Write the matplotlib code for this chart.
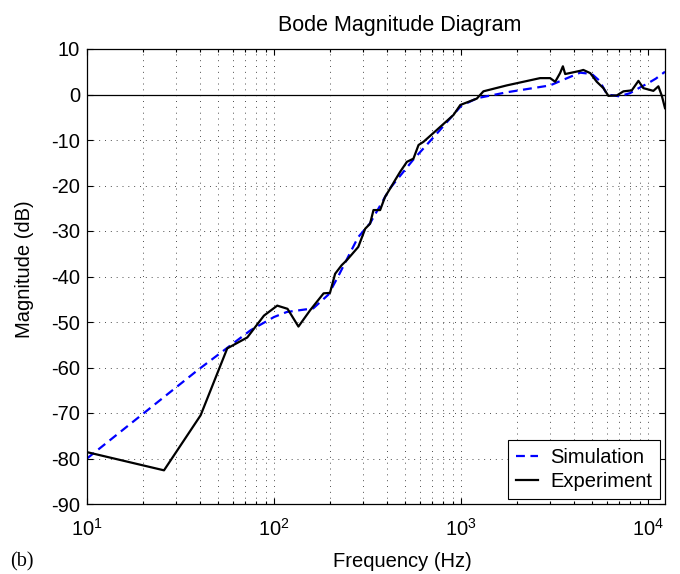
import matplotlib
matplotlib.use("Agg")
import matplotlib.pyplot as plt
from matplotlib.ticker import LogLocator, NullFormatter, MultipleLocator

# simulated response (frequency in Hz, magnitude in dB)
sim_freq = [10, 39, 75, 100, 117, 162, 195, 220, 281, 326, 417, 553, 745,
            1000, 1220, 1762, 2990, 3500, 4330, 5000, 5500, 6030, 7000,
            8000, 9000, 10000, 11000, 12300]
sim_mag = [-80, -60.6, -51.8, -48.9, -47.8, -47, -44, -40, -31.4, -28.3,
           -20.6, -14.4, -8.5, -2.5, -0.8, 0.5, 2, 3.2, 4.8, 4.5, 3, 0,
           -0.4, 0.3, 1.5, 2.5, 3.5, 5]

# measured response
exp_freq = [10, 25.8, 40.5, 56.2, 71.9, 88.3, 104, 118, 135, 156, 184, 199,
            212, 230, 245, 282, 307, 326, 340, 369, 392, 417, 444, 472, 513,
            556, 592, 629, 741, 910, 990, 1213, 1316, 1754, 2153, 2643, 2990,
            3184, 3380, 3500, 3600, 4330, 4500, 4900, 5310, 5760, 6130, 6800,
            7380, 8170, 8870, 9420, 10660, 11340, 11830, 12300]
exp_mag = [-78.6, -82.6, -70.5, -55.8, -53.4, -48.6, -46.4, -47.1, -51,
           -47.4, -43.7, -43.6, -39.4, -37.5, -36.4, -33.5, -29.5, -28.4,
           -25.4, -25.4, -22.5, -20.7, -18.8, -17, -14.8, -14.1, -11.1, -10.4,
           -7.8, -4.5, -2.3, -0.9, 0.7, 2, 2.8, 3.6, 3.6, 2.8, 4.7, 6.2, 4.5,
           5.2, 5.4, 4.7, 2.8, 1.4, -0.3, -0.2, 0.7, 0.9, 3.0, 1.4, 0.8, 1.8,
           -0.3, -3]

plt.rcParams['font.family'] = ['Liberation Sans', 'DejaVu Sans']
plt.rcParams['mathtext.fontset'] = 'custom'
plt.rcParams['mathtext.rm'] = 'Liberation Sans'
plt.rcParams['axes.unicode_minus'] = False

fs = 14.5

fig = plt.figure(figsize=(6.8, 5.74), dpi=100)
ax = fig.add_axes([87 / 680, 1 - 504 / 574, (665 - 87) / 680, (504 - 49) / 574])

grid_kw = dict(color='0.3', linestyle=(0, (1, 5)), linewidth=0.7)
ax.set_xscale('log')
ax.set_xlim(10, 12300)
ax.set_ylim(-90, 10)
ax.yaxis.set_major_locator(MultipleLocator(10))
ax.xaxis.set_major_locator(LogLocator(base=10, numticks=10))
ax.xaxis.set_minor_locator(LogLocator(base=10, subs=range(2, 10), numticks=10))
ax.xaxis.set_minor_formatter(NullFormatter())
ax.grid(True, which='major', **grid_kw)
ax.grid(True, which='minor', axis='x', **grid_kw)
ax.set_axisbelow(True)

ax.axhline(0, color='black', linewidth=0.9)
ax.plot(sim_freq, sim_mag, color='#0000ff', linestyle=(0, (4, 2.5)),
        linewidth=1.6, label='Simulation')
ax.plot(exp_freq, exp_mag, color='black', linewidth=1.6, label='Experiment')

ax.tick_params(which='both', direction='in', top=True, right=True,
               labelsize=fs, width=0.8)
ax.tick_params(which='major', length=4)
ax.tick_params(which='minor', length=2.5)
ax.tick_params(axis='x', which='major', pad=10)
ax.tick_params(axis='y', which='major', pad=5)
for sp in ax.spines.values():
    sp.set_linewidth(0.9)

ax.set_title('Bode Magnitude Diagram', fontsize=15.5, pad=13, x=0.541)
ax.set_xlabel('Frequency (Hz)', fontsize=fs, labelpad=9)
ax.xaxis.set_label_coords(0.546, -0.105)
ax.set_ylabel('Magnitude (dB)', fontsize=fs, labelpad=12)
ax.yaxis.label.set_y(0.516)

leg = ax.legend(loc='lower right', fontsize=fs, fancybox=False,
                edgecolor='black', framealpha=1, handlelength=1.1,
                handletextpad=0.6, borderaxespad=0.25, labelspacing=0.25,
                borderpad=0.4)
leg.get_frame().set_linewidth(0.8)

fig.text(10 / 680, 1 - 562 / 574, '(b)', fontsize=fs,
         family='Liberation Serif', va='center')

fig.savefig('out.png', dpi=100)
